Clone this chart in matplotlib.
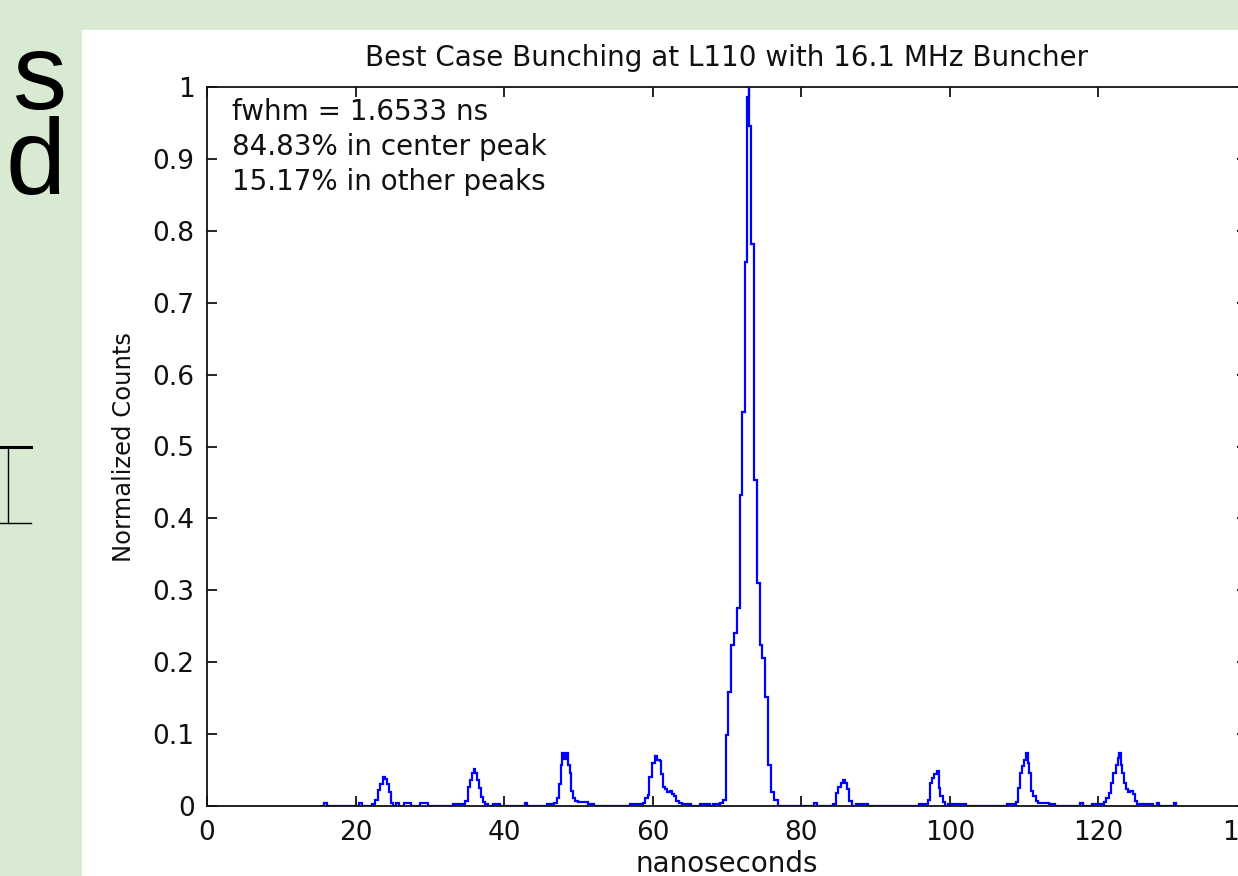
import matplotlib
matplotlib.use("Agg")
import matplotlib.pyplot as plt
from matplotlib.patches import Rectangle
from matplotlib.lines import Line2D

# ---------------- data (time in ns, normalized counts) ----------------
t_pre = [15.5, 15.9, 16.3, 20.3, 20.6, 21.0]
c_pre = [0, 0.004, 0, 0, 0.004, 0]

t_peak1 = [22.1, 22.44, 22.80, 23.16, 23.52, 23.78, 24.05, 24.32, 24.59, 24.86, 25.13,
           25.7, 26.1, 26.9, 27.3, 27.7, 29.6, 30.0]
c_peak1 = [0, 0.003, 0.008, 0.022, 0.030, 0.040, 0.037, 0.030, 0.020, 0.004, 0,
           0.004, 0, 0.004, 0.004, 0, 0.004, 0]

t_peak2 = [33.0, 33.3, 33.8, 34.2, 34.6, 34.98, 35.34, 35.56, 35.79, 36.01, 36.24, 36.46,
           36.68, 37.0, 37.22, 37.58, 38.03, 38.9, 39.3, 39.7, 42.6, 42.9, 43.2]
c_peak2 = [0, 0.003, 0.003, 0.003, 0.003, 0.007, 0.027, 0.036, 0.046, 0.051, 0.046, 0.036,
           0.025, 0.012, 0.006, 0.003, 0, 0.003, 0.003, 0, 0, 0.004, 0]

t_peak3 = [45.6, 45.9, 46.5, 46.9, 47.2, 47.52, 47.75, 47.93, 48.2, 48.42, 48.69, 48.91,
           49.14, 49.45, 49.76, 50.12, 50.6, 51.0, 51.46, 51.9, 52.3]
c_peak3 = [0, 0.003, 0.003, 0.004, 0.011, 0.031, 0.057, 0.074, 0.065, 0.074, 0.057, 0.046,
           0.021, 0.011, 0.007, 0.005, 0.005, 0.005, 0.003, 0.003, 0]

t_peak4 = [56.8, 57.1, 57.8, 58.5, 58.86, 59.17, 59.44, 59.66, 60.06, 60.43, 60.77, 61.09,
           61.22, 61.44, 61.77, 62.12, 62.44, 62.75, 63.02, 63.33, 63.65, 64.23, 64.9, 65.3]
c_peak4 = [0, 0.003, 0.003, 0.003, 0.004, 0.011, 0.015, 0.041, 0.060, 0.069, 0.064, 0.062,
           0.044, 0.027, 0.023, 0.019, 0.021, 0.016, 0.014, 0.007, 0.004, 0.003, 0.003, 0]

t_center = [66.2, 66.5, 67.0, 67.3, 67.6, 67.9, 68.3, 68.8, 69.2, 69.6, 70.01, 70.37, 70.75,
            71.13, 71.51, 71.89, 72.25, 72.59, 72.85, 72.96, 73.07, 73.41, 73.85, 74.26,
            74.60, 74.91, 75.28, 75.68, 76.08, 76.65, 77.2, 81.6, 81.9, 82.2]
c_center = [0, 0.003, 0.003, 0, 0.003, 0, 0.003, 0.003, 0.004, 0.008, 0.099, 0.159, 0.224,
            0.240, 0.275, 0.432, 0.548, 0.757, 0.986, 1.0, 0.946, 0.781, 0.453, 0.310,
            0.224, 0.206, 0.152, 0.057, 0.020, 0.008, 0, 0, 0.004, 0]

t_peak6 = [84.1, 84.45, 84.83, 85.15, 85.42, 85.73, 86.04, 86.31, 86.63, 86.95,
           87.75, 88.3, 88.86, 89.2]
c_peak6 = [0, 0.003, 0.018, 0.027, 0.032, 0.036, 0.032, 0.023, 0.007, 0,
           0.003, 0.003, 0.003, 0]

t_peak7 = [95.7, 96.03, 96.6, 96.93, 97.15, 97.46, 97.73, 98.05, 98.36, 98.59, 98.86, 99.17,
           99.45, 100.06, 100.7, 101.4, 102.08, 102.4]
c_peak7 = [0, 0.003, 0.003, 0.003, 0.009, 0.032, 0.039, 0.044, 0.048, 0.025, 0.014, 0.005,
           0, 0.003, 0.003, 0.003, 0.003, 0]

t_peak8 = [107.6, 107.9, 108.4, 108.8, 109.02, 109.34, 109.61, 109.92, 110.14, 110.36,
           110.59, 110.81, 111.03, 111.35, 111.71, 112.1, 112.6, 113.1, 113.5, 114.0, 114.4]
c_peak8 = [0, 0.003, 0.003, 0.003, 0.005, 0.025, 0.046, 0.055, 0.064, 0.074,
           0.060, 0.046, 0.021, 0.014, 0.007, 0.004, 0.004, 0.004, 0.003, 0.003, 0]

t_peak9 = [117.4, 117.75, 118.1, 119.0, 119.3, 119.8, 120.3, 120.7, 120.9, 121.25, 121.57,
           121.88, 122.14, 122.46, 122.68, 122.91, 123.13, 123.35, 123.58, 123.8, 124.12,
           124.47, 124.79, 125.01, 125.37, 125.9, 126.5, 127.16, 127.5, 127.8, 128.06,
           128.35, 130.0, 130.3, 130.6]
c_peak9 = [0, 0.004, 0, 0, 0.003, 0.003, 0.003, 0.003, 0.005, 0.011, 0.018,
           0.032, 0.046, 0.057, 0.067, 0.074, 0.057, 0.046, 0.032, 0.023, 0.019,
           0.021, 0.016, 0.007, 0.003, 0.003, 0.003, 0.003, 0, 0, 0.004,
           0, 0, 0.004, 0]

x_ticks = [0, 20, 40, 60, 80, 100, 120, 140]
y_ticks = [0, 0.1, 0.2, 0.3, 0.4, 0.5, 0.6, 0.7, 0.8, 0.9, 1]
y_tick_labels = ["0", "0.1", "0.2", "0.3", "0.4", "0.5", "0.6", "0.7", "0.8", "0.9", "1"]

title = "Best Case Bunching at L110 with 16.1 MHz Buncher"
note = "fwhm = 1.6533 ns\n84.83% in center peak\n15.17% in other peaks"
slide_fragment = "s\nd"

times = (t_pre + t_peak1 + t_peak2 + t_peak3 + t_peak4 + t_center
         + t_peak6 + t_peak7 + t_peak8 + t_peak9)
counts = (c_pre + c_peak1 + c_peak2 + c_peak3 + c_peak4 + c_center
          + c_peak6 + c_peak7 + c_peak8 + c_peak9)

# ---------------- figure ----------------
W, H = 1238, 876
fig = plt.figure(figsize=(W / 100, H / 100), dpi=100)
fig.patch.set_facecolor("#d9ead3")

# white panel of the slide picture
fig.patches.append(Rectangle((82 / W, 0), 1 - 82 / W, (H - 30) / H,
                             transform=fig.transFigure, facecolor="white",
                             edgecolor="none", zorder=-5))

# fragments of slide text on the left (cut off by the crop);
# va='baseline' on a multi-line text anchors the last line ("d")
fig.text(66 / W, 1 - 194 / H, slide_fragment, fontsize=78, family="Liberation Sans",
         ha="right", va="baseline", multialignment="right", linespacing=0.81,
         color="black")
for (x0, y0, x1, y1, lw) in [(0, 447, 31, 447, 2.2), (8, 447, 8, 523, 1.0),
                             (0, 523, 31, 523, 1.0)]:
    fig.lines.append(Line2D([x0 / W, x1 / W], [1 - y0 / H, 1 - y1 / H],
                            transform=fig.transFigure, color="black", lw=lw))

ax = fig.add_axes([207 / W, 1 - 806 / H, (1247 - 207) / W, (806 - 87) / H])
ax.set_zorder(2)
ax.set_facecolor("white")
ax.plot(times, counts, color="#0000ff", lw=1.6, drawstyle="steps-mid",
        solid_joinstyle="miter")

ax.set_xlim(0, 140)
ax.set_ylim(0, 1)
ax.set_xticks(x_ticks)
ax.set_yticks(y_ticks)
ax.set_yticklabels(y_tick_labels)

font = "DejaVu Sans"
ink = "#111111"
for s in ax.spines.values():
    s.set_linewidth(1.3)
    s.set_color(ink)
ax.tick_params(direction="in", length=7, width=1.3, color=ink,
               top=True, right=True, labelsize=19, pad=9)
for lab in ax.get_xticklabels() + ax.get_yticklabels():
    lab.set_family(font)
    lab.set_color(ink)
ax.tick_params(axis="x", pad=10)

ax.set_title(title, fontsize=20, family=font, pad=15, color=ink)
ax.set_xlabel("nanoseconds", fontsize=20, family=font, labelpad=3, color=ink)
ax.set_ylabel("Normalized Counts", fontsize=17.5, family=font, labelpad=12, color=ink)

ax.text(3.4, 0.985, note, fontsize=20, family=font, va="top", ha="left",
        linespacing=1.33, color=ink)

fig.savefig("out.png", dpi=100, facecolor=fig.get_facecolor())
